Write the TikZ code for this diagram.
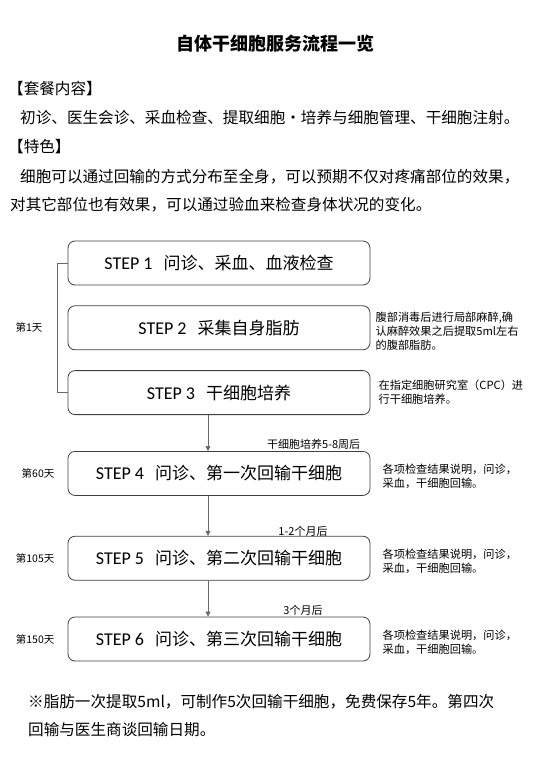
\documentclass[tikz,border=0pt]{standalone}
\usepackage{fontspec}
\setmainfont{Noto Sans CJK SC}
\newfontfamily\stepfont{Carlito}
\usetikzlibrary{positioning,arrows.meta,calc}
\definecolor{boxline}{RGB}{62,62,78}
\definecolor{linkgray}{RGB}{105,105,105}

\begin{document}
\begin{tikzpicture}[
  x=1pt, y=-1pt,
  stepbox/.style={draw=boxline, line width=0.8pt, rounded corners=7pt,
                  minimum width=302pt, minimum height=44pt, inner sep=0pt,
                  font=\fontsize{17}{20}\selectfont},
  note/.style ={align=left, inner sep=0pt, font=\fontsize{11.2}{14}\selectfont},
  day/.style  ={inner sep=0pt, font=\fontsize{10.5}{12}\selectfont},
  gap/.style  ={inner sep=0pt, font=\fontsize{11}{13}\selectfont},
  para/.style ={anchor=west, inner sep=0pt, font=\fontsize{15.6}{18}\selectfont},
  link/.style ={draw=linkgray, line width=0.7pt},
  arr/.style  ={link, -{Triangle[width=5pt,length=5pt]}},
]
\useasboundingbox (0,0) rectangle (540,780);

% heading and package text
\node[font=\bfseries\fontsize{18}{20}\selectfont] (title) at (275,44)
  {自体干细胞服务流程一览};
\node[para] (pkghd) at (8,89) {【套餐内容】};
\node[para] (pkg) at (20,118)
  {初诊、医生会诊、采血检查、提取细胞・培养与细胞管理、干细胞注射。};
\node[para] (feathd) at (8,147) {【特色】};
\node[para] (feat1) at (20,177)
  {细胞可以通过回输的方式分布至全身，可以预期不仅对疼痛部位的效果，};
\node[para] (feat2) at (10,205)
  {对其它部位也有效果，可以通过验血来检查身体状况的变化。};

% steps
\node[stepbox] (s1) at (219,263)
  {{\stepfont\fontsize{18}{20}\selectfont STEP 1}\hspace{11pt}问诊、采血、血液检查};
\node[stepbox, below=20pt of s1] (s2)
  {{\stepfont\fontsize{18}{20}\selectfont STEP 2}\hspace{11pt}采集自身脂肪};
\node[stepbox, below=20pt of s2] (s3)
  {{\stepfont\fontsize{18}{20}\selectfont STEP 3}\hspace{11pt}干细胞培养};
\node[stepbox, below=36pt of s3] (s4)
  {{\stepfont\fontsize{18}{20}\selectfont STEP 4}\hspace{11pt}问诊、第一次回输干细胞};
\node[stepbox, below=40pt of s4] (s5)
  {{\stepfont\fontsize{18}{20}\selectfont STEP 5}\hspace{11pt}问诊、第二次回输干细胞};
\node[stepbox, below=36pt of s5] (s6)
  {{\stepfont\fontsize{18}{20}\selectfont STEP 6}\hspace{11pt}问诊、第三次回输干细胞};

% notes on the right
\node[note, right=5pt of s2, yshift=-3pt] (n2)
  {腹部消毒后进行局部麻醉,确\\认麻醉效果之后提取5ml左右\\的腹部脂肪。};
\node[note, right=8pt of s3] (n3)
  {在指定细胞研究室（CPC）进\\行干细胞培养。};
\node[note, right=12pt of s4, yshift=-3pt] (n4)
  {各项检查结果说明，问诊，\\采血，干细胞回输。};
\node[note, right=12pt of s5, yshift=-3pt] (n5)
  {各项检查结果说明，问诊，\\采血，干细胞回输。};
\node[note, right=12pt of s6, yshift=-3pt] (n6)
  {各项检查结果说明，问诊，\\采血，干细胞回输。};

% day bracket and labels
\draw[link] (s1.west) -- ++(-10pt,0) |- (s3.west);
\coordinate (brk) at ([xshift=-10pt]s2.west);
\node[day, left=15pt of brk] (d1) {第1天};
\node[day, left=13pt of s4] (d4) {第60天};
\node[day, left=13pt of s5] (d5) {第105天};
\node[day, left=13pt of s6] (d6) {第150天};

% arrows between visits
\draw[arr] ([xshift=-11pt]s3.south) -- ([xshift=-11pt]s4.north);
\draw[arr] ([xshift=-11pt]s4.south) -- ([xshift=-11pt]s5.north);
\draw[arr] ([xshift=-11pt]s5.south) -- ([xshift=-11pt]s6.north);
\node[gap, anchor=south east] (g4) at ([xshift=-10pt,yshift=1pt]s4.north east)
  {干细胞培养5-8周后};
\node[gap, anchor=south] (g5) at ([xshift=84pt,yshift=-1pt]s5.north)
  {1-2个月后};
\node[gap, anchor=south] (g6) at ([xshift=84pt,yshift=1pt]s6.north)
  {3个月后};

% footnote
\node[para] (foot1) at (28,702)
  {※脂肪一次提取5ml，可制作5次回输干细胞，免费保存5年。第四次};
\node[para] (foot2) at (28,730) {回输与医生商谈回输日期。};

\end{tikzpicture}
\end{document}
